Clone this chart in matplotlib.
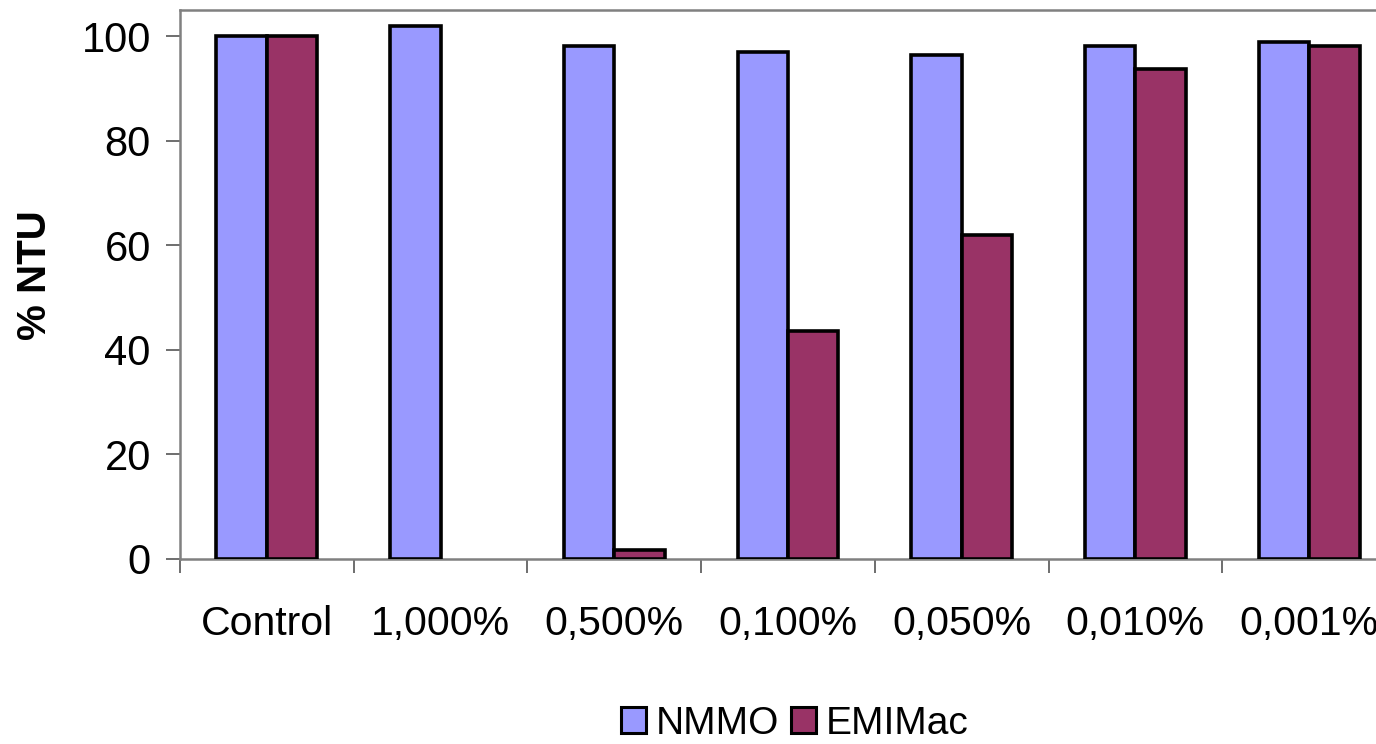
import matplotlib
matplotlib.use("Agg")
import matplotlib.pyplot as plt
import numpy as np
from matplotlib.patches import Patch

categories = ["Control", "1,000%", "0,500%", "0,100%", "0,050%", "0,010%", "0,001%"]
nmmo = [100, 101.9, 98.2, 96.9, 96.3, 98.2, 98.8]
emimac = [100, 0, 1.8, 43.7, 61.9, 93.8, 98.2]
series_names = ["NMMO", "EMIMac"]
colors = ["#9999FF", "#993366"]

plt.rcParams['font.family'] = ['Liberation Sans', 'DejaVu Sans']

W, H = 1376, 744
fig = plt.figure(figsize=(W/100, H/100), dpi=100)
ax = fig.add_axes([180/W, 1-559/H, (1396-180)/W, (559-10)/H])

x = np.arange(len(categories))
bw = 0.29
for vals, off, c in [(nmmo, -bw/2, colors[0]), (emimac, bw/2, colors[1])]:
    lws = [2.6 if v > 0 else 0 for v in vals]
    ax.bar(x + off, vals, bw, color=c, edgecolor='black', linewidth=lws, zorder=3)

ax.set_xlim(-0.5, len(categories) - 0.5)
ax.set_ylim(0, 105)
ax.set_yticks([0, 20, 40, 60, 80, 100])
ax.set_xticks(x)
ax.set_xticklabels(categories)
ax.set_xticks(np.arange(len(categories)+1) - 0.5, minor=True)
ax.tick_params(axis='x', which='major', length=0, pad=33, labelsize=29.5)
ax.tick_params(axis='x', which='minor', length=10, width=1.2, color='#555555', direction='out')
ax.tick_params(axis='y', length=10, width=1.2, color='#555555', pad=11, labelsize=30)

for s in ax.spines.values():
    s.set_color('#808080')
    s.set_linewidth(1.8)

fig.text(35/W, 1-275/H, "% NTU", rotation=90, ha='center', va='center',
         fontsize=29, fontweight='bold')

handles = [Patch(facecolor=colors[i], edgecolor='black', linewidth=2.2) for i in range(2)]
fig.legend(handles, series_names, loc='center', bbox_to_anchor=(795/W, 1-724/H),
           ncol=2, frameon=False, fontsize=28, handlelength=0.65, handleheight=0.65,
           handletextpad=0.25, columnspacing=0.3)

fig.savefig("out.png", dpi=100)
